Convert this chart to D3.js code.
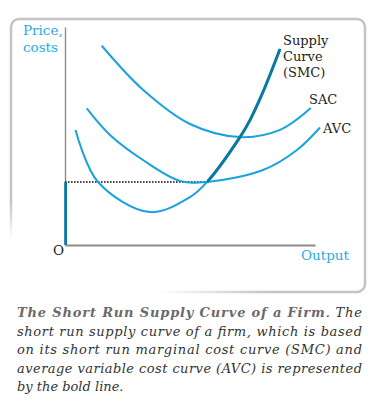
<!DOCTYPE html>
<html>
<head>
<meta charset="utf-8">
<script src="https://cdn.jsdelivr.net/npm/d3@7"></script>
<style>
html,body{margin:0;padding:0;background:#fff;}
svg{display:block;}
</style>
</head>
<body>
<svg id="chart" width="380" height="404"></svg>
<script>
// ---- data (output, price) ----
const sacCurve = [[1.47,9.14],[3.12,7.12],[5.0,5.55],[7.0,4.95],[8.6,5.28],[9.83,6.28]];
const avcCurve = [[0.87,6.27],[1.8,5.05],[3.12,3.9],[4.6,2.94],[5.68,2.89],[7.92,3.44],[9.28,4.36],[10.2,5.39]];
const smcCurve = [[0.42,5.28],[1.32,2.89],[3.4,1.51],[5.0,2.2],[5.68,2.89],[7.0,4.95],[7.4,5.73],[7.92,7.02],[8.6,8.99]];
const avcMin = [5.68, 2.89];
const curveLabels = [
  {lines:["Supply","Curve","(SMC)"], at:[8.72,9.18]},
  {lines:["SAC"], at:[9.76,6.45]},
  {lines:["AVC"], at:[10.32,5.12]}
];
const axisLabels = {y:["Price,","costs"], x:"Output", origin:"O"};
const captionBold = "The Short Run Supply Curve of a Firm";
const captionLines = [
  ". The",
  "short run supply curve of a firm, which is based",
  "on its short run marginal cost curve (SMC) and",
  "average variable cost curve (AVC)  is represented",
  "by the bold line."
];

const svg = d3.select("#chart");
const x = d3.scaleLinear().domain([0,10]).range([65,315]);
const y = d3.scaleLinear().domain([0,10]).range([245,27]);

// frame with fading stroke
const defs = svg.append("defs");
const g = defs.append("linearGradient").attr("id","fade").attr("gradientUnits","userSpaceOnUse")
  .attr("x1",114).attr("y1",276).attr("x2",126).attr("y2",242);
g.append("stop").attr("offset",0).attr("stop-color","#c4c4c4").attr("stop-opacity",0);
g.append("stop").attr("offset",1).attr("stop-color","#c4c4c4").attr("stop-opacity",1);
svg.append("rect").attr("x",11).attr("y",19).attr("width",354).attr("height",273).attr("rx",8)
  .attr("fill","#fff").attr("stroke","url(#fade)").attr("stroke-width",2.5);

const blue = "#19a3dc", dark = "#0b78a4", textBlue = "#2aaae2";

// axes
const xAxis = d3.axisBottom(x).tickValues([]).tickSizeOuter(0);
const yAxis = d3.axisLeft(y).tickValues([]).tickSizeOuter(0);
svg.append("g").attr("transform",`translate(0,${y(0)})`).call(xAxis)
  .select(".domain").attr("stroke","#8c8c8c").attr("stroke-width",2);
svg.append("g").attr("transform",`translate(${x(0)},0)`).call(yAxis)
  .select(".domain").attr("stroke","#8c8c8c").attr("stroke-width",1.4);

const line = d3.line().x(d=>x(d[0])).y(d=>y(d[1])).curve(d3.curveCatmullRom.alpha(0.5));

// dotted line at AVC minimum
svg.append("line").attr("x1",x(0)).attr("x2",x(avcMin[0])).attr("y1",y(avcMin[1])).attr("y2",y(avcMin[1]))
  .attr("stroke","#111").attr("stroke-width",1.6).attr("stroke-dasharray","1.6,1.4");

[sacCurve, avcCurve, smcCurve].forEach(c=>{
  svg.append("path").attr("d",line(c)).attr("fill","none").attr("stroke",blue).attr("stroke-width",2);
});

// bold supply curve
defs.append("clipPath").attr("id","supclip").append("rect")
  .attr("x",x(avcMin[0])).attr("y",0).attr("width",380).attr("height",y(avcMin[1])+1);
svg.append("path").attr("d",line(smcCurve)).attr("fill","none").attr("stroke",dark)
  .attr("stroke-width",3).attr("clip-path","url(#supclip)");
svg.append("line").attr("x1",x(0)+0.6).attr("x2",x(0)+0.6).attr("y1",y(avcMin[1])).attr("y2",y(0))
  .attr("stroke",dark).attr("stroke-width",2.8);

// curve labels
const serif = "'DejaVu Serif', serif";
curveLabels.forEach(l=>{
  const t = svg.append("text").attr("x",x(l.at[0])).attr("y",y(l.at[1]))
    .attr("font-family",serif).attr("font-size",13).attr("fill","#222");
  l.lines.forEach((s,i)=>t.append("tspan").attr("x",x(l.at[0])).attr("dy",i?16:0).text(s));
});

// axis labels
const yl = svg.append("text").attr("font-family",serif).attr("font-size",13.5).attr("fill",textBlue);
axisLabels.y.forEach((s,i)=>yl.append("tspan").attr("x",23).attr("y",35+i*17).text(s));
svg.append("text").attr("x",301).attr("y",260).attr("font-family",serif).attr("font-size",13.5)
  .attr("fill",textBlue).text(axisLabels.x);
svg.append("text").attr("x",53).attr("y",255).attr("font-family",serif).attr("font-size",13.5)
  .attr("fill","#222").text(axisLabels.origin);

// caption
const capY = [317,336,354,373,391];
const t0 = svg.append("text").attr("x",17).attr("y",capY[0]).attr("font-family",serif)
  .attr("font-size",13).attr("font-style","italic").attr("textLength",345).attr("lengthAdjust","spacing");
t0.append("tspan").attr("font-weight","bold").attr("fill","#6a6a6a").text(captionBold);
t0.append("tspan").attr("fill","#333").text(captionLines[0]);
captionLines.slice(1).forEach((s,i)=>{
  const t = svg.append("text").attr("x",17).attr("y",capY[i+1]).attr("font-family",serif)
    .attr("font-size",13).attr("font-style","italic").attr("fill","#333").text(s);
  if(i<3) t.attr("textLength",345).attr("lengthAdjust","spacing");
});
</script>
</body>
</html>
